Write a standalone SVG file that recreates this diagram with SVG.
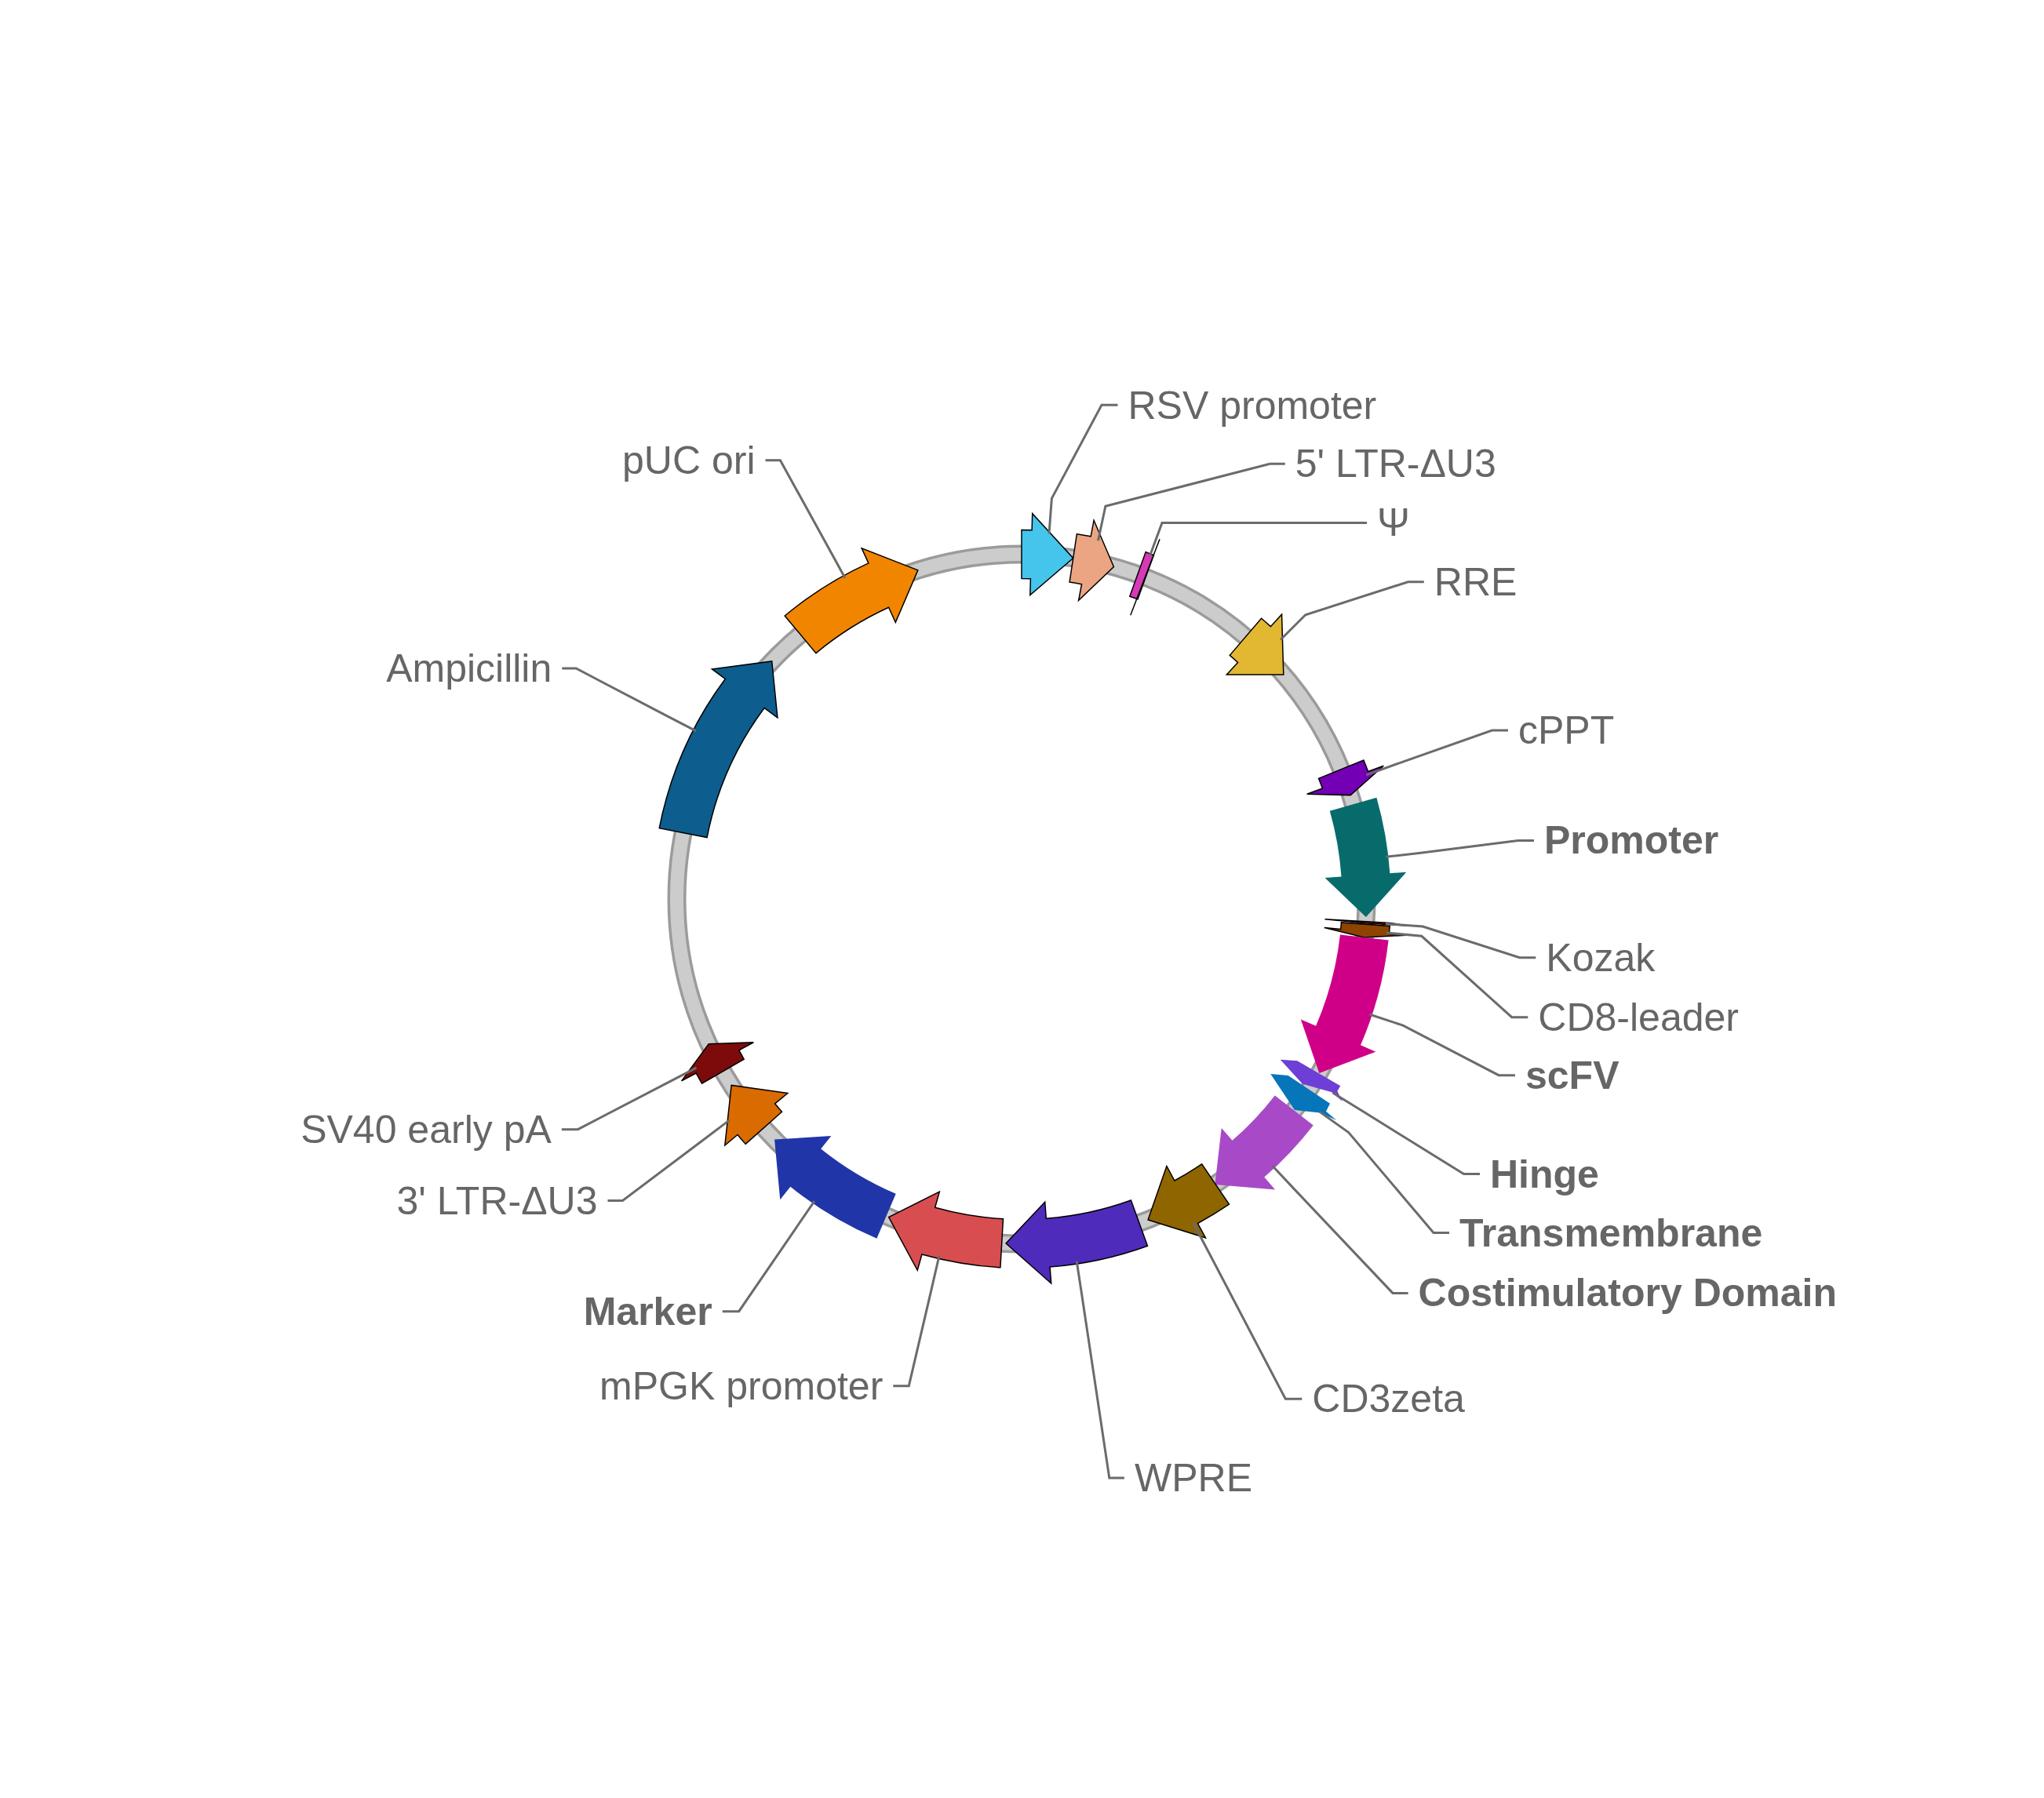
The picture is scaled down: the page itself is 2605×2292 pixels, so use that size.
<svg xmlns="http://www.w3.org/2000/svg" width="2605" height="2292" viewBox="0 0 2605 2292">
<style>
.lbl{font-family:"Liberation Sans",Arial,Helvetica,sans-serif;font-size:50px;fill:#666666}
.b{font-weight:bold}
.e{text-anchor:end}
.o{stroke:#000000;stroke-width:1.5;stroke-linejoin:miter}
.ldr{fill:none;stroke:#6b6b6b;stroke-width:3}
</style>
<rect width="2605" height="2292" fill="#ffffff"/>
<g id="backbone">
<circle cx="1302" cy="1146" r="439.5" fill="none" stroke="#9b9b9b" stroke-width="24"/>
<circle cx="1302" cy="1146" r="439.5" fill="none" stroke="#cccccc" stroke-width="17"/>
</g>
<g id="node-ampicillin">
<path class="o" fill="#0d5d8e" transform="translate(1302 1146) rotate(306.6)" d="M0,-408.5 L0,-387.5 L53.56,-436.22 L0,-491.5 L0,-470.5 A470.5,470.5 0 0 0 -202.79,-424.58 L-176.06,-368.63 A408.5,408.5 0 0 1 0,-408.5 Z"/>
<text class="lbl e" x="703.3" y="869">Ampicillin</text>
</g>
<g id="node-puc-ori">
<path class="o" fill="#f28500" transform="translate(1302 1146) rotate(335.5)" d="M0,-408.5 L0,-387.5 L53.56,-436.22 L0,-491.5 L0,-470.5 A470.5,470.5 0 0 0 -124.95,-453.62 L-108.48,-393.84 A408.5,408.5 0 0 1 0,-408.5 Z"/>
<text class="lbl e" x="962.5" y="603.7">pUC ori</text>
</g>
<g id="node-rsv-promoter">
<path class="o" fill="#45c4ec" transform="translate(1302 1146) rotate(1.6)" d="M0,-408.5 L0,-387.5 L53.56,-436.22 L0,-491.5 L0,-470.5 A470.5,470.5 0 0 0 -13.14,-470.32 L-11.41,-408.34 A408.5,408.5 0 0 1 0,-408.5 Z"/>
<text class="lbl" x="1437.5" y="533.5">RSV promoter</text>
</g>
<g id="node-5ltr">
<path class="o" fill="#eba582" transform="translate(1302 1146) rotate(10.8)" d="M0,-408.5 L0,-387.5 L36.01,-438.02 L0,-491.5 L0,-470.5 A470.5,470.5 0 0 0 -18.06,-470.15 L-15.68,-408.2 A408.5,408.5 0 0 1 0,-408.5 Z"/>
<text class="lbl" x="1650.8" y="608.3">5' LTR-ΔU3</text>
</g>
<g id="node-psi">
<polygon class="o" fill="#d63ab6" points="1460.2,703.6 1470.4,707.7 1450,763.8 1439.8,760.2"/>
<line x1="1478" y1="687.2" x2="1440.8" y2="784.2" stroke="#000000" stroke-width="1.5"/>
<text class="lbl" x="1755" y="683.4">Ψ</text>
</g>
<g id="node-rre">
<path class="o" fill="#e2b731" transform="translate(1302 1146) rotate(42.42)" d="M0,-408.5 L0,-387.5 L53.56,-436.22 L0,-491.5 L0,-470.5 A470.5,470.5 0 0 0 -15.76,-470.24 L-13.69,-408.27 A408.5,408.5 0 0 1 0,-408.5 Z"/>
<text class="lbl" x="1827.8" y="758.8">RRE</text>
</g>
<g id="node-cppt">
<path class="o" fill="#7300b4" transform="translate(1302 1146) rotate(69.8)" d="M0,-408.5 L0,-387.5 L20.47,-439.02 L0,-491.5 L0,-470.5 A470.5,470.5 0 0 0 -15.6,-470.24 L-13.54,-408.28 A408.5,408.5 0 0 1 0,-408.5 Z"/>
<text class="lbl" x="1935" y="948.1">cPPT</text>
</g>
<g id="node-promoter">
<path fill="#076b6b" transform="translate(1302 1146) rotate(86)" d="M0,-408.5 L0,-387.5 L53.56,-436.22 L0,-491.5 L0,-470.5 A470.5,470.5 0 0 0 -97.42,-460.3 L-84.58,-399.65 A408.5,408.5 0 0 1 0,-408.5 Z"/>
<text class="lbl b" x="1968" y="1088.4">Promoter</text>
</g>
<g id="node-kozak">
<polygon class="o" fill="#a01010" points="1688.6,1171.7 1771.5,1176.4 1792.3,1179.9 1740.4,1176.7"/>
<text class="lbl" x="1970.3" y="1237.7">Kozak</text>
</g>
<g id="node-cd8-leader">
<path class="o" fill="#8f4300" transform="translate(1302 1146) rotate(95.4)" d="M0,-408.5 L0,-387.5 L7.67,-439.43 L0,-491.5 L0,-470.5 A470.5,470.5 0 0 0 -9.85,-470.4 L-8.55,-408.41 A408.5,408.5 0 0 1 0,-408.5 Z"/>
<text class="lbl" x="1960.3" y="1313.7">CD8-leader</text>
</g>
<g id="node-scfv">
<path fill="#cf0087" transform="translate(1302 1146) rotate(113.33)" d="M0,-408.5 L0,-387.5 L53.56,-436.22 L0,-491.5 L0,-470.5 A470.5,470.5 0 0 0 -137.01,-450.11 L-118.95,-390.8 A408.5,408.5 0 0 1 0,-408.5 Z"/>
<text class="lbl b" x="1944" y="1387.7">scFV</text>
</g>
<g id="node-hinge">
<polygon fill="#6e3fd6" points="1631.7,1350.7 1653.3,1352.3 1708.3,1384.3 1704.3,1391 1711,1404 1697.3,1392.3 1660,1381.7"/>
<text class="lbl b" x="1899" y="1513.5">Hinge</text>
</g>
<g id="node-transmembrane">
<polygon fill="#0675ba" points="1619.3,1369 1641.7,1371 1695,1406.7 1690,1416.7 1703.3,1428 1682,1418.5 1650,1415"/>
<text class="lbl b" x="1860" y="1588.5">Transmembrane</text>
</g>
<g id="node-costimulatory">
<path fill="#a84ac8" transform="translate(1302 1146) rotate(138.9)" d="M0,-408.5 L0,-387.5 L53.56,-436.22 L0,-491.5 L0,-470.5 A470.5,470.5 0 0 0 -90.58,-461.7 L-78.64,-400.86 A408.5,408.5 0 0 1 0,-408.5 Z"/>
<text class="lbl b" x="1807.6" y="1665.4">Costimulatory Domain</text>
</g>
<g id="node-cd3zeta">
<path class="o" fill="#8f6500" transform="translate(1302 1146) rotate(151.5)" d="M0,-408.5 L0,-387.5 L53.56,-436.22 L0,-491.5 L0,-470.5 A470.5,470.5 0 0 0 -46.73,-468.17 L-40.57,-406.48 A408.5,408.5 0 0 1 0,-408.5 Z"/>
<text class="lbl" x="1672.3" y="1800.3">CD3zeta</text>
</g>
<g id="node-wpre">
<path class="o" fill="#4f2bbb" transform="translate(1302 1146) rotate(175.6)" d="M0,-408.5 L0,-387.5 L53.56,-436.22 L0,-491.5 L0,-470.5 A470.5,470.5 0 0 0 -126.13,-453.3 L-109.51,-393.57 A408.5,408.5 0 0 1 0,-408.5 Z"/>
<text class="lbl" x="1446" y="1900.9">WPRE</text>
</g>
<g id="node-mpgk">
<path class="o" fill="#d84e50" transform="translate(1302 1146) rotate(195.67)" d="M0,-408.5 L0,-387.5 L53.56,-436.22 L0,-491.5 L0,-470.5 A470.5,470.5 0 0 0 -100.8,-459.59 L-87.51,-399.03 A408.5,408.5 0 0 1 0,-408.5 Z"/>
<text class="lbl e" x="1125.3" y="1783.7">mPGK promoter</text>
</g>
<g id="node-marker">
<path fill="#2035a8" transform="translate(1302 1146) rotate(218.77)" d="M0,-408.5 L0,-387.5 L53.56,-436.22 L0,-491.5 L0,-470.5 A470.5,470.5 0 0 0 -127.09,-453.04 L-110.34,-393.34 A408.5,408.5 0 0 1 0,-408.5 Z"/>
<text class="lbl b e" x="907.7" y="1688.7">Marker</text>
</g>
<g id="node-3ltr">
<path class="o" fill="#da6b00" transform="translate(1302 1146) rotate(230.3)" d="M0,-408.5 L0,-387.5 L53.56,-436.22 L0,-491.5 L0,-470.5 A470.5,470.5 0 0 0 -15.6,-470.24 L-13.54,-408.28 A408.5,408.5 0 0 1 0,-408.5 Z"/>
<text class="lbl e" x="761.5" y="1547.5">3' LTR-ΔU3</text>
</g>
<g id="node-sv40">
<path class="o" fill="#7d0b0b" transform="translate(1302 1146) rotate(241.85)" d="M0,-408.5 L0,-387.5 L25.22,-438.78 L0,-491.5 L0,-470.5 A470.5,470.5 0 0 0 -15.19,-470.25 L-13.19,-408.29 A408.5,408.5 0 0 1 0,-408.5 Z"/>
<text class="lbl e" x="702.8" y="1456.7">SV40 early pA</text>
</g>
<g id="connectors">
<polyline class="ldr" points="1337,680.3 1340.4,635.4 1404,516.3 1424.5,516.3"/>
<polyline class="ldr" points="1399.5,689.3 1408.9,645.3 1618.4,591.3 1637.8,591.3"/>
<polyline class="ldr" points="1465.5,708.6 1481,666.4 1742,666.4"/>
<polyline class="ldr" points="1632,815.5 1663.8,783.7 1794.4,741.8 1814.8,741.8"/>
<polyline class="ldr" points="1741.4,987.8 1783.7,972.6 1901.5,931.1 1922,931.1"/>
<polyline class="ldr" points="1765.9,1092.3 1810.6,1087.2 1934.7,1071.4 1955,1071.4"/>
<polyline class="ldr" points="1766,1177.5 1813.3,1181 1936.7,1220.7 1957.3,1220.7"/>
<polyline class="ldr" points="1767,1189.1 1811.8,1193.3 1926.7,1296.7 1947.3,1296.7"/>
<polyline class="ldr" points="1745.3,1293 1788,1307.2 1910,1370.7 1931,1370.7"/>
<polyline class="ldr" points="1698.5,1393 1736.7,1416.5 1865.5,1496.5 1886,1496.5"/>
<polyline class="ldr" points="1682,1417.4 1718.7,1443.6 1827,1571.5 1847,1571.5"/>
<polyline class="ldr" points="1621.8,1486.3 1652.6,1519.1 1775,1648.4 1794.6,1648.4"/>
<polyline class="ldr" points="1520.5,1558.7 1541.6,1598.5 1638.3,1783.3 1659.3,1783.3"/>
<polyline class="ldr" points="1372.2,1607.7 1379,1652.2 1413.8,1883.9 1432.9,1883.9"/>
<polyline class="ldr" points="1196.9,1601 1186.8,1644.9 1158.3,1766.7 1138.3,1766.7"/>
<polyline class="ldr" points="1037.96,1531.2 1012.5,1568.3 941.7,1671.7 920.7,1671.7"/>
<polyline class="ldr" points="929.7,1427.9 893.8,1455 793.5,1530.5 774.5,1530.5"/>
<polyline class="ldr" points="887.5,1361.2 847.6,1381.9 736.5,1439.7 715.8,1439.7"/>
<polyline class="ldr" points="887.1,931.8 847.1,911.2 734.2,852 716.3,852"/>
<polyline class="ldr" points="1077,736.8 1055.3,697.3 994.4,586.7 975.5,586.7"/>
</g>
</svg>
